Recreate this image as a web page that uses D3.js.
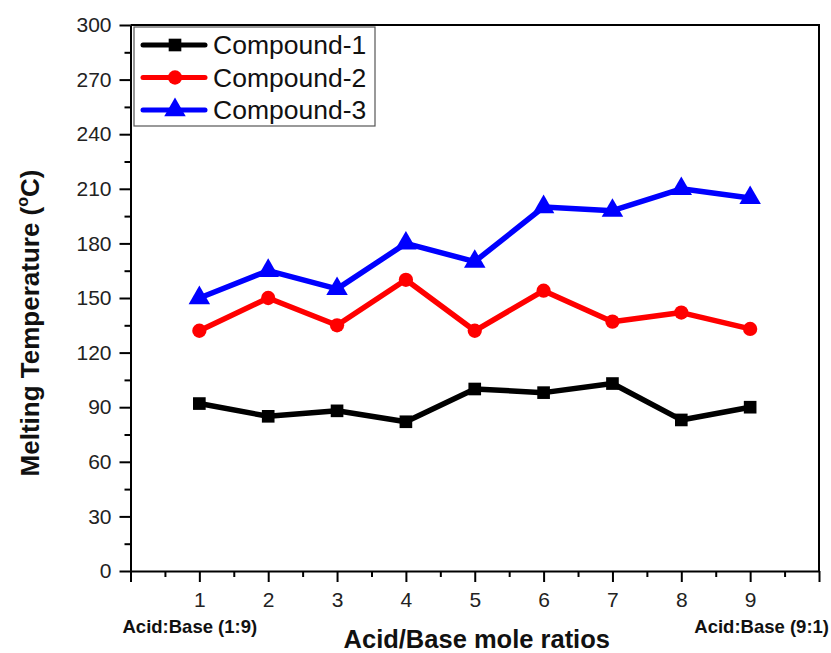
<!DOCTYPE html>
<html>
<head>
<meta charset="utf-8">
<script src="https://cdn.jsdelivr.net/npm/d3@7"></script>
<style>
  body { margin: 0; background: #fff; }
  svg { display: block; font-family: Arial, "Liberation Sans", sans-serif; }
  .axis path, .axis line { stroke: #000; stroke-width: 2; }
  .axis text { fill: #222; font-size: 21px; }
</style>
</head>
<body>
<svg width="831" height="653"></svg>
<script>
// data
const ratios = [1, 2, 3, 4, 5, 6, 7, 8, 9];
const compound1 = [92, 85, 88, 82, 100, 98, 103, 83, 90];
const compound2 = [132, 150, 135, 160, 132, 154, 137, 142, 133];
const compound3 = [150, 165, 155, 180, 170, 200, 198, 210, 205];
const seriesNames = ['Compound-1', 'Compound-2', 'Compound-3'];
const seriesColors = ['#000000', '#ff0000', '#0000ff'];
const seriesShapes = [d3.symbolSquare, d3.symbolCircle, d3.symbolTriangle];
const yTicks = [0, 30, 60, 90, 120, 150, 180, 210, 240, 270, 300];
const xTicks = [0, 1, 2, 3, 4, 5, 6, 7, 8, 9, 10];

const margin = { top: 25, right: 12, bottom: 82, left: 130.5 },
  width = 831 - margin.left - margin.right,
  height = 653 - margin.top - margin.bottom;

const svg = d3.select('svg')
  .append('g')
  .attr('transform', `translate(${margin.left}, ${margin.top})`);

const x = d3.scaleLinear().domain([0, 10]).range([0, width]);
const y = d3.scaleLinear().domain([0, 300]).range([height, 0]);

// frame (top + right)
svg.append('path')
  .attr('d', `M0,0H${width}V${height}`)
  .attr('fill', 'none')
  .attr('stroke', '#000')
  .attr('stroke-width', 2);

// minor ticks
svg.append('g')
  .attr('class', 'axis')
  .attr('transform', `translate(0,${height})`)
  .call(d3.axisBottom(x).tickValues(d3.range(0.5, 10, 1)).tickSize(6).tickFormat(''))
  .select('.domain').remove();
svg.append('g')
  .attr('class', 'axis')
  .call(d3.axisLeft(y).tickValues(d3.range(15, 300, 30)).tickSize(6).tickFormat(''))
  .select('.domain').remove();

// major axes
svg.append('g')
  .attr('class', 'axis')
  .attr('transform', `translate(0,${height})`)
  .call(d3.axisBottom(x).tickValues(xTicks).tickSizeInner(11).tickSizeOuter(0).tickPadding(10)
    .tickFormat(d => ratios.includes(d) ? d : ''));

svg.append('g')
  .attr('class', 'axis')
  .call(d3.axisLeft(y).tickValues(yTicks).tickSizeInner(11).tickSizeOuter(0).tickPadding(8));

const line = d3.line()
  .x((d, i) => x(ratios[i]))
  .y(d => y(d));

const allSeries = [compound1, compound2, compound3];
const symSizes = [160, 160, 200];

allSeries.forEach((vals, k) => {
  svg.append('path')
    .datum(vals)
    .attr('d', line)
    .attr('fill', 'none')
    .attr('stroke', seriesColors[k])
    .attr('stroke-width', 5.5)
    .attr('stroke-linejoin', 'round');

  svg.selectAll(`.pt${k}`)
    .data(vals)
    .enter()
    .append('path')
    .attr('class', `pt${k}`)
    .attr('transform', (d, i) => `translate(${x(ratios[i])},${y(d)})`)
    .attr('d', d3.symbol().type(seriesShapes[k]).size(symSizes[k]))
    .attr('fill', seriesColors[k]);
});

// legend
const legend = svg.append('g').attr('transform', 'translate(3.5,2)');
legend.append('rect')
  .attr('width', 241)
  .attr('height', 99)
  .attr('fill', '#fff')
  .attr('stroke', '#555')
  .attr('stroke-width', 1.2);

seriesNames.forEach((name, k) => {
  const g = legend.append('g').attr('transform', `translate(0,${18 + k * 32.5})`);
  g.append('line')
    .attr('x1', 9).attr('x2', 71)
    .attr('stroke', seriesColors[k])
    .attr('stroke-width', 5)
    .attr('stroke-linecap', 'round');
  g.append('path')
    .attr('transform', 'translate(41,0)')
    .attr('d', d3.symbol().type(seriesShapes[k]).size(symSizes[k]))
    .attr('fill', seriesColors[k]);
  g.append('text')
    .attr('x', 79)
    .attr('dy', '0.35em')
    .attr('font-size', 26.5)
    .attr('fill', '#111')
    .text(name);
});

// axis titles
svg.append('text')
  .attr('x', width / 2 + 2)
  .attr('y', height + 77)
  .attr('text-anchor', 'middle')
  .attr('font-size', 25.5)
  .attr('font-weight', 'bold')
  .attr('fill', '#111')
  .text('Acid/Base mole ratios');

svg.append('text')
  .attr('x', -8)
  .attr('y', height + 62)
  .attr('font-size', 18.5)
  .attr('font-weight', 'bold')
  .attr('fill', '#111')
  .text('Acid:Base (1:9)');

svg.append('text')
  .attr('x', width + 10)
  .attr('y', height + 62)
  .attr('text-anchor', 'end')
  .attr('font-size', 18.5)
  .attr('font-weight', 'bold')
  .attr('fill', '#111')
  .text('Acid:Base (9:1)');

const yl = svg.append('text')
  .attr('transform', `translate(-92,${height / 2 + 25}) rotate(-90)`)
  .attr('text-anchor', 'middle')
  .attr('font-size', 26)
  .attr('font-weight', 'bold')
  .attr('fill', '#111');
yl.append('tspan').text('Melting Temperature (');
yl.append('tspan').attr('font-size', 16).attr('dy', -11).text('o');
yl.append('tspan').attr('dy', 11).text('C)');
</script>
</body>
</html>
